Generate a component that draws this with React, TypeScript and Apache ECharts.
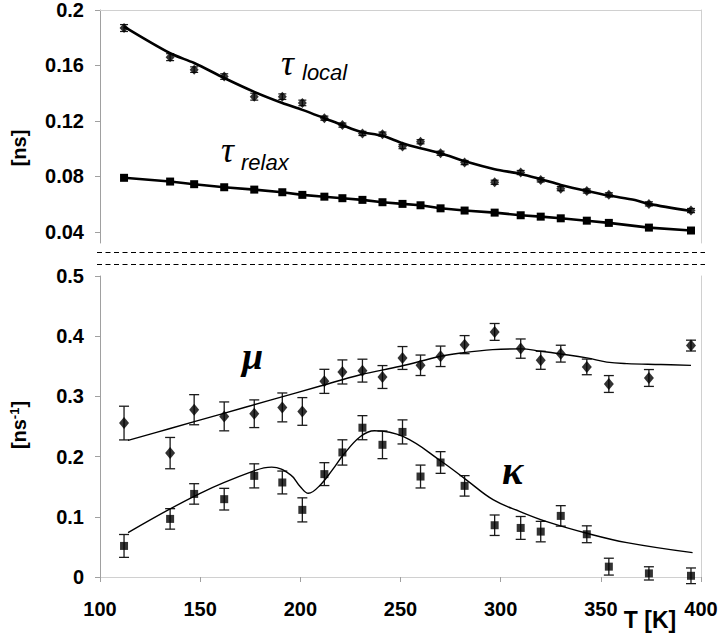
import React, { useEffect, useRef } from "react";
import * as echarts from "echarts";

// Temperatures (K) of the measured points
const temps = [112, 135, 147, 162, 177, 191, 201, 212, 221, 231, 241, 251, 260, 270, 282, 297, 310, 320, 330, 343, 354, 374, 395];

// Upper panel [ns]
const tauLocal = [0.187, 0.166, 0.157, 0.152, 0.1375, 0.1375, 0.133, 0.122, 0.117, 0.111, 0.1105, 0.1015, 0.105, 0.0967, 0.09, 0.0758, 0.0828, 0.0775, 0.0712, 0.0695, 0.0667, 0.0602, 0.0554];
const tauLocalErr = [0.0025, 0.0025, 0.002, 0.002, 0.0025, 0.002, 0.002, 0.0015, 0.0015, 0.0015, 0.0015, 0.0015, 0.0015, 0.0015, 0.0015, 0.0015, 0.0015, 0.0015, 0.0015, 0.0015, 0.0015, 0.0015, 0.0015];
const tauLocalFitT = [112, 135, 147, 162, 177, 191, 201, 212, 221, 230, 241, 251, 260, 270, 283, 297, 310, 320, 330, 343, 354, 367, 374, 395];
const tauLocalFit = [0.188, 0.1688, 0.1618, 0.151, 0.141, 0.133, 0.128, 0.122, 0.117, 0.1123, 0.1093, 0.104, 0.1003, 0.0967, 0.0905, 0.0852, 0.0818, 0.078, 0.0739, 0.0695, 0.0662, 0.063, 0.0602, 0.0551];
const tauRelax = [0.079, 0.0763, 0.0744, 0.0722, 0.0705, 0.0686, 0.0667, 0.0654, 0.0643, 0.0631, 0.0614, 0.0602, 0.0592, 0.057, 0.0554, 0.0539, 0.052, 0.051, 0.0498, 0.0481, 0.0465, 0.0431, 0.041];

// Lower panel [ns^-1]
const mu = [0.2557, 0.2058, 0.2779, 0.2668, 0.2712, 0.2817, 0.275, 0.325, 0.3406, 0.3428, 0.3322, 0.3638, 0.3517, 0.3666, 0.386, 0.4071, 0.3794, 0.36, 0.371, 0.349, 0.3206, 0.3306, 0.3844];
const muErr = [0.028, 0.026, 0.025, 0.024, 0.023, 0.024, 0.023, 0.02, 0.02, 0.019, 0.019, 0.019, 0.017, 0.017, 0.015, 0.014, 0.016, 0.015, 0.014, 0.013, 0.014, 0.014, 0.009];
const muFitT = [114, 135, 160, 185, 210, 230, 250, 270, 280, 296, 310, 320, 330, 343, 353, 363, 380, 395];
const muFit = [0.227, 0.2467, 0.2702, 0.2937, 0.3172, 0.336, 0.35, 0.3666, 0.372, 0.3777, 0.379, 0.375, 0.3705, 0.364, 0.357, 0.3544, 0.353, 0.3516];
const kappa = [0.0516, 0.0965, 0.138, 0.1293, 0.168, 0.157, 0.1115, 0.1709, 0.2069, 0.248, 0.2196, 0.241, 0.1669, 0.1902, 0.1514, 0.086, 0.0815, 0.0754, 0.1015, 0.071, 0.0172, 0.006, 0.002];
const kappaErr = [0.019, 0.017, 0.017, 0.018, 0.02, 0.019, 0.02, 0.019, 0.021, 0.02, 0.023, 0.02, 0.019, 0.018, 0.017, 0.017, 0.019, 0.017, 0.017, 0.014, 0.014, 0.011, 0.013];
const kappaFitT = [114, 150, 177.5, 185.7, 195, 200, 204, 210, 216, 221.5, 230, 237, 251.5, 270.5, 283, 296.4, 309.7, 323, 343, 363, 395.8];
const kappaFit = [0.0737, 0.139, 0.177, 0.1825, 0.17, 0.15, 0.139, 0.153, 0.178, 0.203, 0.2334, 0.243, 0.233, 0.1919, 0.161, 0.128, 0.1087, 0.092, 0.0727, 0.0571, 0.0404];

// Tick labels
const topTicks = [0.04, 0.08, 0.12, 0.16, 0.2];

const zip = (xs: number[], ys: number[]) => xs.map((x, i) => [x, ys[i]]);

function errorBars(xs: number[], vals: number[], errs: number[], axisIdx: number, cap: number, lw: number) {
  return {
    type: "custom",
    xAxisIndex: axisIdx,
    yAxisIndex: axisIdx === 0 ? 0 : 2,
    z: 2,
    silent: true,
    encode: { x: 0, y: [1, 2] },
    data: xs.map((x, i) => [x, vals[i] - errs[i], vals[i] + errs[i]]),
    renderItem: (params: any, api: any) => {
      const x = api.value(0);
      const lo = api.coord([x, api.value(1)]);
      const hi = api.coord([x, api.value(2)]);
      const style = { stroke: "#1a1a1a", lineWidth: lw, fill: null };
      return {
        type: "group",
        children: [
          { type: "line", shape: { x1: lo[0], y1: lo[1], x2: hi[0], y2: hi[1] }, style },
          { type: "line", shape: { x1: lo[0] - cap, y1: lo[1], x2: lo[0] + cap, y2: lo[1] }, style },
          { type: "line", shape: { x1: hi[0] - cap, y1: hi[1], x2: hi[0] + cap, y2: hi[1] }, style },
        ],
      };
    },
  };
}

const labelFont = { color: "#000", fontWeight: "bold", fontSize: 20, fontFamily: "Liberation Sans, Arial, sans-serif" };
const fmt = (v: number) => String(parseFloat(v.toFixed(3)));

export default function App() {
  const ref = useRef<HTMLDivElement>(null);
  useEffect(() => {
    if (!ref.current) return;
    const chart = echarts.init(ref.current, undefined, { renderer: "svg" });
    const borderLine = { show: true, lineStyle: { color: "#d0d0d0", width: 1 } };
    const axisLine = { show: true, lineStyle: { color: "#a0a0a0", width: 1 } };
    chart.setOption({
      animation: false,
      backgroundColor: "#fff",
      grid: [
        { left: 100, right: 20, top: 10, height: 233 },
        { left: 100, right: 20, top: 276, height: 301 },
      ],
      xAxis: [
        { gridIndex: 0, type: "value", min: 100, max: 400, position: "top", axisLine: borderLine, axisTick: { show: false }, axisLabel: { show: false }, splitLine: { show: false } },
        {
          gridIndex: 1, type: "value", min: 100, max: 400, interval: 50, position: "bottom",
          axisLine, axisTick: { show: true, length: 5, inside: false, lineStyle: { color: "#a0a0a0" } },
          axisLabel: { ...labelFont, margin: 22, formatter: (v: number) => String(v) }, splitLine: { show: false },
        },
        { gridIndex: 1, type: "value", min: 100, max: 400, position: "top", axisLine: borderLine, axisTick: { show: false }, axisLabel: { show: false }, splitLine: { show: false } },
      ],
      yAxis: [
        {
          gridIndex: 0, type: "value", min: 0.032, max: 0.2, position: "left",
          axisLine, axisTick: { show: true, length: 5, customValues: topTicks, lineStyle: { color: "#a0a0a0" } },
          axisLabel: { ...labelFont, margin: 16, customValues: topTicks, formatter: fmt }, splitLine: { show: false },
        },
        { gridIndex: 0, type: "value", min: 0.032, max: 0.2, position: "right", axisLine: borderLine, axisTick: { show: false }, axisLabel: { show: false }, splitLine: { show: false } },
        {
          gridIndex: 1, type: "value", min: 0, max: 0.5, interval: 0.1, position: "left",
          axisLine, axisTick: { show: true, length: 5, lineStyle: { color: "#a0a0a0" } },
          axisLabel: { ...labelFont, margin: 16, formatter: fmt }, splitLine: { show: false },
        },
        { gridIndex: 1, type: "value", min: 0, max: 0.5, position: "right", axisLine: borderLine, axisTick: { show: false }, axisLabel: { show: false }, splitLine: { show: false } },
      ],
      series: [
        // upper panel
        errorBars(temps, tauLocal, tauLocalErr, 0, 4, 1.2),
        {
          type: "line", name: "tau local fit", xAxisIndex: 0, yAxisIndex: 0, data: zip(tauLocalFitT, tauLocalFit),
          showSymbol: false, smooth: 0.3, lineStyle: { color: "#000", width: 2.6 }, z: 3,
        },
        {
          type: "scatter", name: "tau local", xAxisIndex: 0, yAxisIndex: 0, data: zip(temps, tauLocal),
          symbol: "diamond", symbolSize: [9, 10], itemStyle: { color: "#000" }, z: 4,
        },
        {
          type: "line", name: "tau relax", xAxisIndex: 0, yAxisIndex: 0, data: zip(temps, tauRelax),
          symbol: "rect", symbolSize: 8, showAllSymbol: true, lineStyle: { color: "#000", width: 2.6 }, itemStyle: { color: "#000" }, z: 4,
        },
        // lower panel
        errorBars(temps, mu, muErr, 1, 5, 1.3),
        errorBars(temps, kappa, kappaErr, 1, 5, 1.3),
        {
          type: "line", name: "mu fit", xAxisIndex: 1, yAxisIndex: 2, data: zip(muFitT, muFit),
          showSymbol: false, smooth: 0.4, lineStyle: { color: "#000", width: 1.4 }, z: 3,
        },
        {
          type: "line", name: "kappa fit", xAxisIndex: 1, yAxisIndex: 2, data: zip(kappaFitT, kappaFit),
          showSymbol: false, smooth: 0.4, lineStyle: { color: "#000", width: 1.4 }, z: 3,
        },
        {
          type: "scatter", name: "mu", xAxisIndex: 1, yAxisIndex: 2, data: zip(temps, mu),
          symbol: "diamond", symbolSize: [10, 12], itemStyle: { color: "#000" }, z: 4,
        },
        {
          type: "scatter", name: "kappa", xAxisIndex: 1, yAxisIndex: 2, data: zip(temps, kappa),
          symbol: "rect", symbolSize: 8, itemStyle: { color: "#000" }, z: 4,
        },
      ],
      graphic: [
        { type: "line", shape: { x1: 97, y1: 252.5, x2: 705, y2: 252.5 }, style: { stroke: "#000", lineWidth: 1.2, lineDash: [5, 3.5] }, silent: true },
        { type: "line", shape: { x1: 97, y1: 264.5, x2: 705, y2: 264.5 }, style: { stroke: "#000", lineWidth: 1.2, lineDash: [5, 3.5] }, silent: true },
        { type: "text", x: 281, y: 62.5, style: { text: "τ", font: "italic 36px 'Liberation Serif', serif", fill: "#000", align: "left", verticalAlign: "middle" } },
        { type: "text", x: 302, y: 72.5, style: { text: "local", font: "italic 22px 'Liberation Sans', Arial, sans-serif", fill: "#000", align: "left", verticalAlign: "middle" } },
        { type: "text", x: 221, y: 149.5, style: { text: "τ", font: "italic 36px 'Liberation Serif', serif", fill: "#000", align: "left", verticalAlign: "middle" } },
        { type: "text", x: 241, y: 162.5, style: { text: "relax", font: "italic 22px 'Liberation Sans', Arial, sans-serif", fill: "#000", align: "left", verticalAlign: "middle" } },
        { type: "text", x: 242, y: 356, style: { text: "μ", font: "italic bold 38px 'Liberation Serif', serif", fill: "#000", align: "left", verticalAlign: "middle" } },
        { type: "text", x: 502, y: 470, style: { text: "κ", font: "italic bold 40px 'Liberation Serif', serif", fill: "#000", align: "left", verticalAlign: "middle" } },
        { type: "text", x: 650, y: 620, style: { text: "T [K]", font: "bold 23px 'Liberation Sans', Arial, sans-serif", fill: "#000", align: "center", verticalAlign: "middle" } },
        {
          type: "text", x: 19, y: 148, rotation: Math.PI / 2,
          style: { text: "[ns]", font: "bold 20px 'Liberation Sans', Arial, sans-serif", fill: "#000", align: "center", verticalAlign: "middle" },
        },
        {
          type: "text", x: 19, y: 425, rotation: Math.PI / 2,
          style: {
            text: "{a|[ns}{b|-1}{a|]}", align: "center", verticalAlign: "middle",
            rich: {
              a: { font: "bold 20px 'Liberation Sans', Arial, sans-serif", fill: "#000", color: "#000", lineHeight: 23 },
              b: { font: "bold 13px 'Liberation Sans', Arial, sans-serif", fill: "#000", color: "#000", verticalAlign: "top", lineHeight: 23 },
            },
          },
        },
      ],
    });
    return () => chart.dispose();
  }, []);
  return <div ref={ref} style={{ position: "fixed", left: 0, top: 0, width: 721, height: 636, background: "#fff" }} />;
}
